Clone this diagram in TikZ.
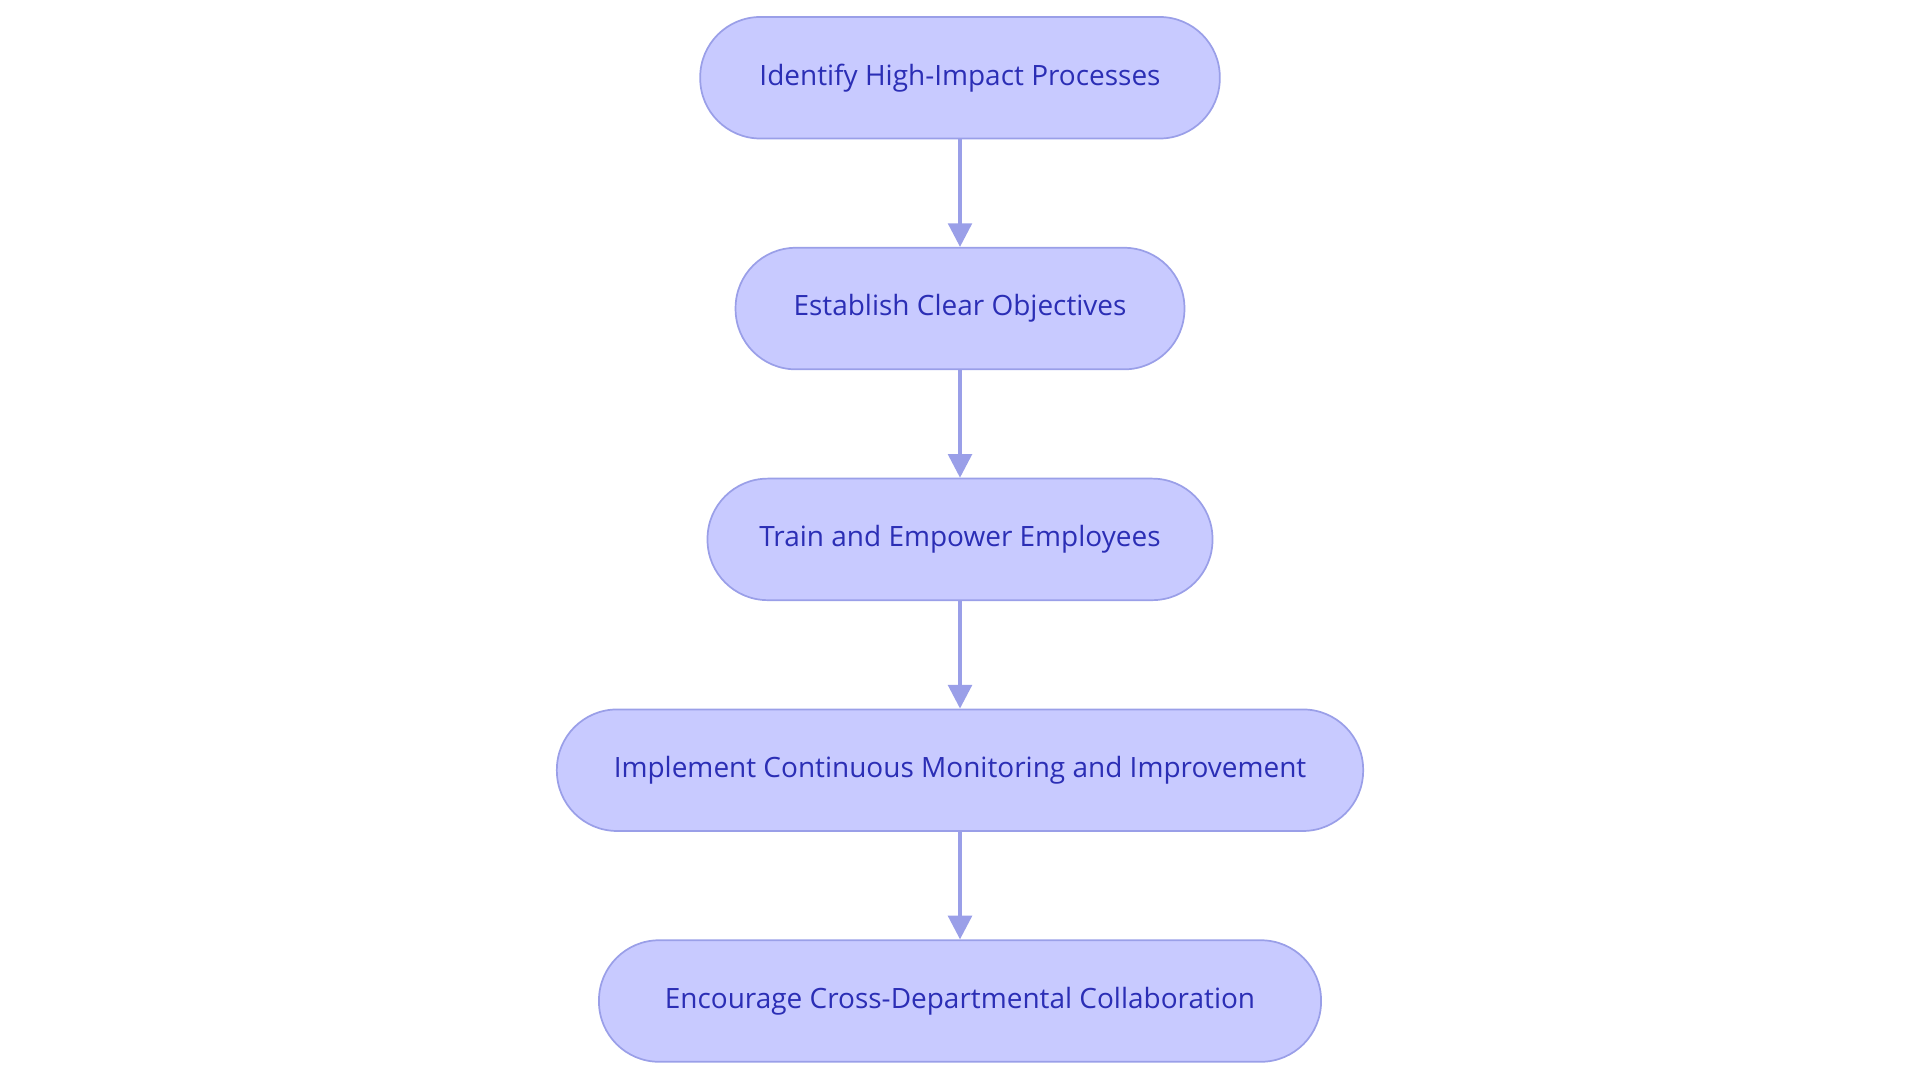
\documentclass[tikz,border=0pt]{standalone}
\usepackage{fontspec}
\setmainfont{Open Sans}
\usetikzlibrary{arrows.meta}
\definecolor{fillc}{HTML}{C8CAFF}
\definecolor{linec}{HTML}{9A9FE8}
\definecolor{textc}{HTML}{2B2EB5}
\begin{document}
\begin{tikzpicture}[x=0.02cm,y=-0.02cm,
  box/.style={draw=linec,line width=0.8pt,fill=fillc,rounded corners=28pt,minimum height=56.5pt,inner sep=0pt,text=textc,font=\fontsize{13pt}{15pt}\selectfont},
  arr/.style={draw=linec,line width=1.7pt,-{Triangle[length=11pt,width=11pt]}}]
\useasboundingbox (0,0) rectangle (1568,884);
\node[box,minimum width=426*0.567pt] (a) at (784,63.5) {Identify High-Impact Processes};
\node[box,minimum width=368*0.567pt] (b) at (784,252) {Establish Clear Objectives};
\node[box,minimum width=414*0.567pt] (c) at (784,440.5) {Train and Empower Employees};
\node[box,minimum width=661*0.567pt] (d) at (784,629) {Implement Continuous Monitoring and Improvement};
\node[box,minimum width=592*0.567pt] (e) at (784,817.5) {Encourage Cross-Departmental Collaboration};
\draw[arr] (a) -- (b);
\draw[arr] (b) -- (c);
\draw[arr] (c) -- (d);
\draw[arr] (d) -- (e);
\end{tikzpicture}
\end{document}
